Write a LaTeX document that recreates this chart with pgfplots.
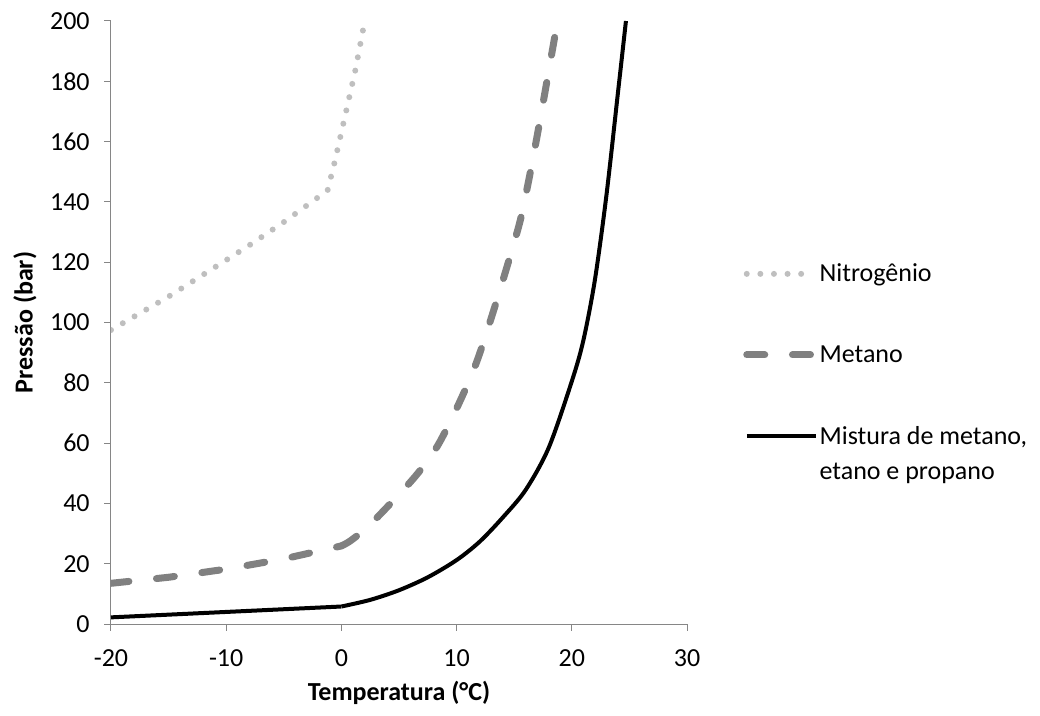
\documentclass[border=0pt]{standalone}
\usepackage{pgfplots}
\pgfplotsset{compat=1.18}
\usepackage{fontspec}
\setmainfont{Carlito}

\definecolor{axisgray}{RGB}{134,134,134}
\definecolor{nitro}{RGB}{191,191,191}
\definecolor{metano}{RGB}{128,128,128}

\tikzset{
  nitroline/.style={color=nitro, line width=4.5pt, line cap=round, dash pattern=on 0pt off 10.2pt},
  metanoline/.style={color=metano, line width=5.25pt, line cap=round, line join=round, dash pattern=on 13.5pt off 20.8pt},
  misturaline/.style={color=black, line width=3pt, line join=round},
}

\begin{document}
\begin{tikzpicture}
\begin{axis}[
  at={(0,0)}, anchor=south west,
  scale only axis,
  width=432pt, height=452.25pt,
  xmin=-20, xmax=30, ymin=0, ymax=200,
  xtick={-20,-10,...,30},
  ytick={0,20,...,200},
  axis lines*=left,
  axis line style={color=axisgray, line width=0.75pt, -},
  tick style={color=axisgray, line width=0.75pt},
  tick align=outside,
  major tick length=5pt,
  /pgf/number format/assume math mode=true,
  tick label style={font=\fontsize{19.5}{23}\selectfont, text=black},
  xticklabel style={yshift=-10.5pt},
  yticklabel style={xshift=-7.5pt},
  every axis x label/.style={at={(axis description cs:0.5,0)}, yshift=-51.75pt, anchor=center},
  every axis y label/.style={at={(axis description cs:0,0.5)}, xshift=-64.5pt, rotate=90, anchor=center},
  label style={font=\fontsize{19.5}{23}\selectfont\bfseries},
  xlabel={Temperatura (°C)},
  ylabel={Pressão (bar)},
  legend style={
    at={(axis description cs:1.0972,0.602)}, anchor=north west,
    draw=none, fill=none, inner sep=0pt,
    font=\fontsize{19.5}{26.25}\selectfont,
    row sep=42.3pt, column sep=0pt,
    nodes={inner xsep=0pt, align=left},
  },
  legend cell align=left,
]

% Nitrogênio
\addplot[nitroline,
  legend image code/.code={\draw[nitroline] (0pt,0pt) -- (42pt,0pt);}]
  coordinates {
  (-20,97.5) (-15,108.6) (-10,120.7) (-8,125.6) (-5,133.3) (-1.2,143.8)
  (-0.6,153) (0.2,166.5) (1.2,183.5) (1.9,197.5)
};
\addlegendentry{Nitrogênio}

% Metano: linear branch below 0 °C, smooth branch above
\addplot[metanoline,
  legend image code/.code={\draw[metanoline] (0pt,0pt) -- (52pt,0pt);}]
  coordinates {
  (-20,13.5) (-15,15.5) (-10,18.2) (-5,21.6) (0,25.9)
};
\addlegendentry{Metano}
\addplot[metanoline, smooth, tension=0.5, forget plot]
  coordinates {
  (0,25.9) (0.75,27.5) (2,31.3) (3.6,37.3) (6.4,48.9) (8.3,58.8) (10.1,72.3)
  (11.75,87) (13.5,107.5) (15.4,132) (16.2,146) (16.95,161) (17.7,177) (18.7,198.7)
};

% Mistura de metano, etano e propano
\addplot[misturaline,
  legend image code/.code={\draw[misturaline] (0pt,13.1pt) -- (52pt,13.1pt);}]
  coordinates {
  (-20,2.2) (-10,4.0) (0,5.8)
};
\addlegendentry{Mistura de metano,\\etano e propano}
\addplot[misturaline, smooth, tension=0.5, forget plot]
  coordinates {
  (0,5.8) (2.5,8.0) (5,11.2) (7.5,15.5) (10,21.2) (12,27.3) (14,35.3)
  (16,44.5) (18,58.5) (20,80.5) (21,94) (22,114) (23,142) (24,176) (24.7,200)
};

\end{axis}
\pgfresetboundingbox
\useasboundingbox (-83.25pt,-68.25pt) rectangle (696.75pt,468pt);
\end{tikzpicture}
\end{document}
